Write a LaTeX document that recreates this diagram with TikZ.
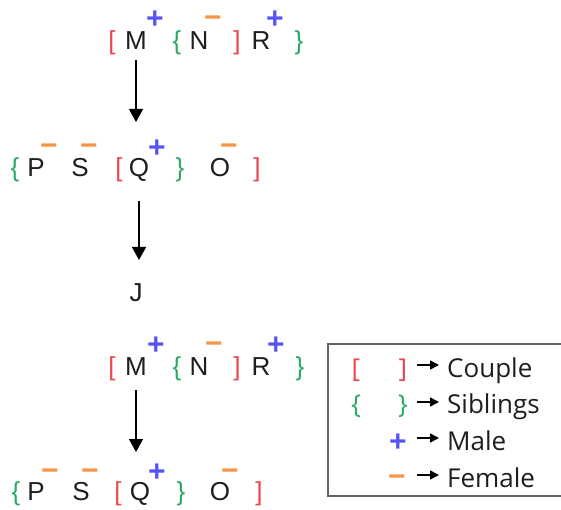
\documentclass[tikz,border=0pt]{standalone}
\usepackage{fontspec}
\setmainfont{Liberation Sans}
\newfontfamily\legfont{Open Sans}
\usetikzlibrary{arrows.meta}
\definecolor{cred}{RGB}{235,70,80}
\definecolor{cgreen}{RGB}{40,170,100}
\definecolor{cblue}{RGB}{85,85,245}
\definecolor{corange}{RGB}{245,150,70}
\definecolor{ctext}{RGB}{30,30,30}
\definecolor{cbox}{RGB}{100,100,100}
\begin{document}
\begin{tikzpicture}[x=1pt,y=-1pt,
  lt/.style={anchor=base,inner sep=0pt,font=\fontsize{26}{26}\selectfont,text=ctext},
  rb/.style={lt,text=cred},
  gb/.style={lt,text=cgreen},
  pl/.style={anchor=base,inner sep=0pt,font=\fontsize{30}{30}\selectfont\bfseries,text=cblue},
  mi/.style={pl,text=corange},
  arr/.style={-{Triangle[width=14pt,length=13pt]},line width=1.3pt,draw=black},
  larr/.style={-{Triangle[width=9pt,length=9pt]},line width=1.5pt,draw=black},
  lg/.style={anchor=base,inner sep=0pt,font=\legfont\fontsize{26}{26}\selectfont,text=ctext},
  lgr/.style={lg,text=cred},
  lgg/.style={lg,text=cgreen},
  legbox/.style={draw=cbox,line width=1.5pt}]
\clip (0,0) rectangle (561,510);
% ---- group 1 ----
\node[rb] (b1a) at (112,50) {[};
\node[lt] (M1) at (136,50) {M};
\node[pl] (pM1) at (155,29) {+};
\node[gb] (c1a) at (177,50) {\{};
\node[lt] (N1) at (199,50) {N};
\node[mi] (mN1) at (213,28) {−};
\node[rb] (b1b) at (237,50) {]};
\node[lt] (R1) at (261,50) {R};
\node[pl] (pR1) at (275,29) {+};
\node[gb] (c1b) at (299,50) {\}};
% row 2
\node[gb] (c2a) at (15,177) {\{};
\node[lt] (P1) at (36,177) {P};
\node[mi] (mP1) at (49,156) {−};
\node[lt] (S1) at (80,177) {S};
\node[mi] (mS1) at (89,156) {−};
\node[rb] (b2a) at (119,177) {[};
\node[lt] (Q1) at (139,177) {Q};
\node[pl] (pQ1) at (157,158) {+};
\node[gb] (c2b) at (180,177) {\}};
\node[lt] (O1) at (220,177) {O};
\node[mi] (mO1) at (229,156) {−};
\node[rb] (b2b) at (257,177) {]};
% J
\node[lt] (J) at (136,301) {J};
% ---- group 2 ----
\node[rb] (b3a) at (112,375) {[};
\node[lt] (M2) at (136,375) {M};
\node[pl] (pM2) at (156,354) {+};
\node[gb] (c3a) at (177,375) {\{};
\node[lt] (N2) at (199,375) {N};
\node[mi] (mN2) at (214,353) {−};
\node[rb] (b3b) at (237,375) {]};
\node[lt] (R2) at (261,375) {R};
\node[pl] (pR2) at (276,354) {+};
\node[gb] (c3b) at (300,375) {\}};
% row 4
\node[gb] (c4a) at (16,500) {\{};
\node[lt] (P2) at (36,500) {P};
\node[mi] (mP2) at (50,480) {−};
\node[lt] (S2) at (81,500) {S};
\node[mi] (mS2) at (90,480) {−};
\node[rb] (b4a) at (118,500) {[};
\node[lt] (Q2) at (140,500) {Q};
\node[pl] (pQ2) at (157,481) {+};
\node[gb] (c4b) at (181,500) {\}};
\node[lt] (O2) at (220,500) {O};
\node[mi] (mO2) at (230,480) {−};
\node[rb] (b4b) at (259,500) {]};
% arrows
\coordinate (t1) at (136,122);
\coordinate (t2) at (139,260);
\coordinate (t3) at (136,452);
\draw[arr,shorten <=10pt] (M1.south) -- (t1);
\draw[arr,shorten <=19pt] (Q1.south) -- (t2);
\draw[arr,shorten <=15pt] (M2.south) -- (t3);
% legend
\draw[legbox] (328,344) rectangle (575,496);
\node[lgr] (lb1) at (356,377) {[};
\node[lgr] (lb2) at (403,377) {]};
\node[lgg] (lc1) at (356,413) {\{};
\node[lgg] (lc2) at (403,413) {\}};
\node[pl] (lp) at (398,451) {+};
\node[mi] (lm) at (397,486) {−};
\node[lg,anchor=base west] (tc) at (447,377) {Couple};
\node[lg,anchor=base west] (ts) at (447,413) {Siblings};
\node[lg,anchor=base west] (tm) at (447,450) {Male};
\node[lg,anchor=base west] (tf) at (447,487) {Female};
\coordinate (ls1) at (417,365); \coordinate (le1) at (439,365);
\coordinate (ls2) at (417,402); \coordinate (le2) at (439,402);
\coordinate (ls3) at (417,438); \coordinate (le3) at (439,438);
\coordinate (ls4) at (417,475); \coordinate (le4) at (439,475);
\draw[larr] (ls1) -- (le1);
\draw[larr] (ls2) -- (le2);
\draw[larr] (ls3) -- (le3);
\draw[larr] (ls4) -- (le4);
\end{tikzpicture}
\end{document}
